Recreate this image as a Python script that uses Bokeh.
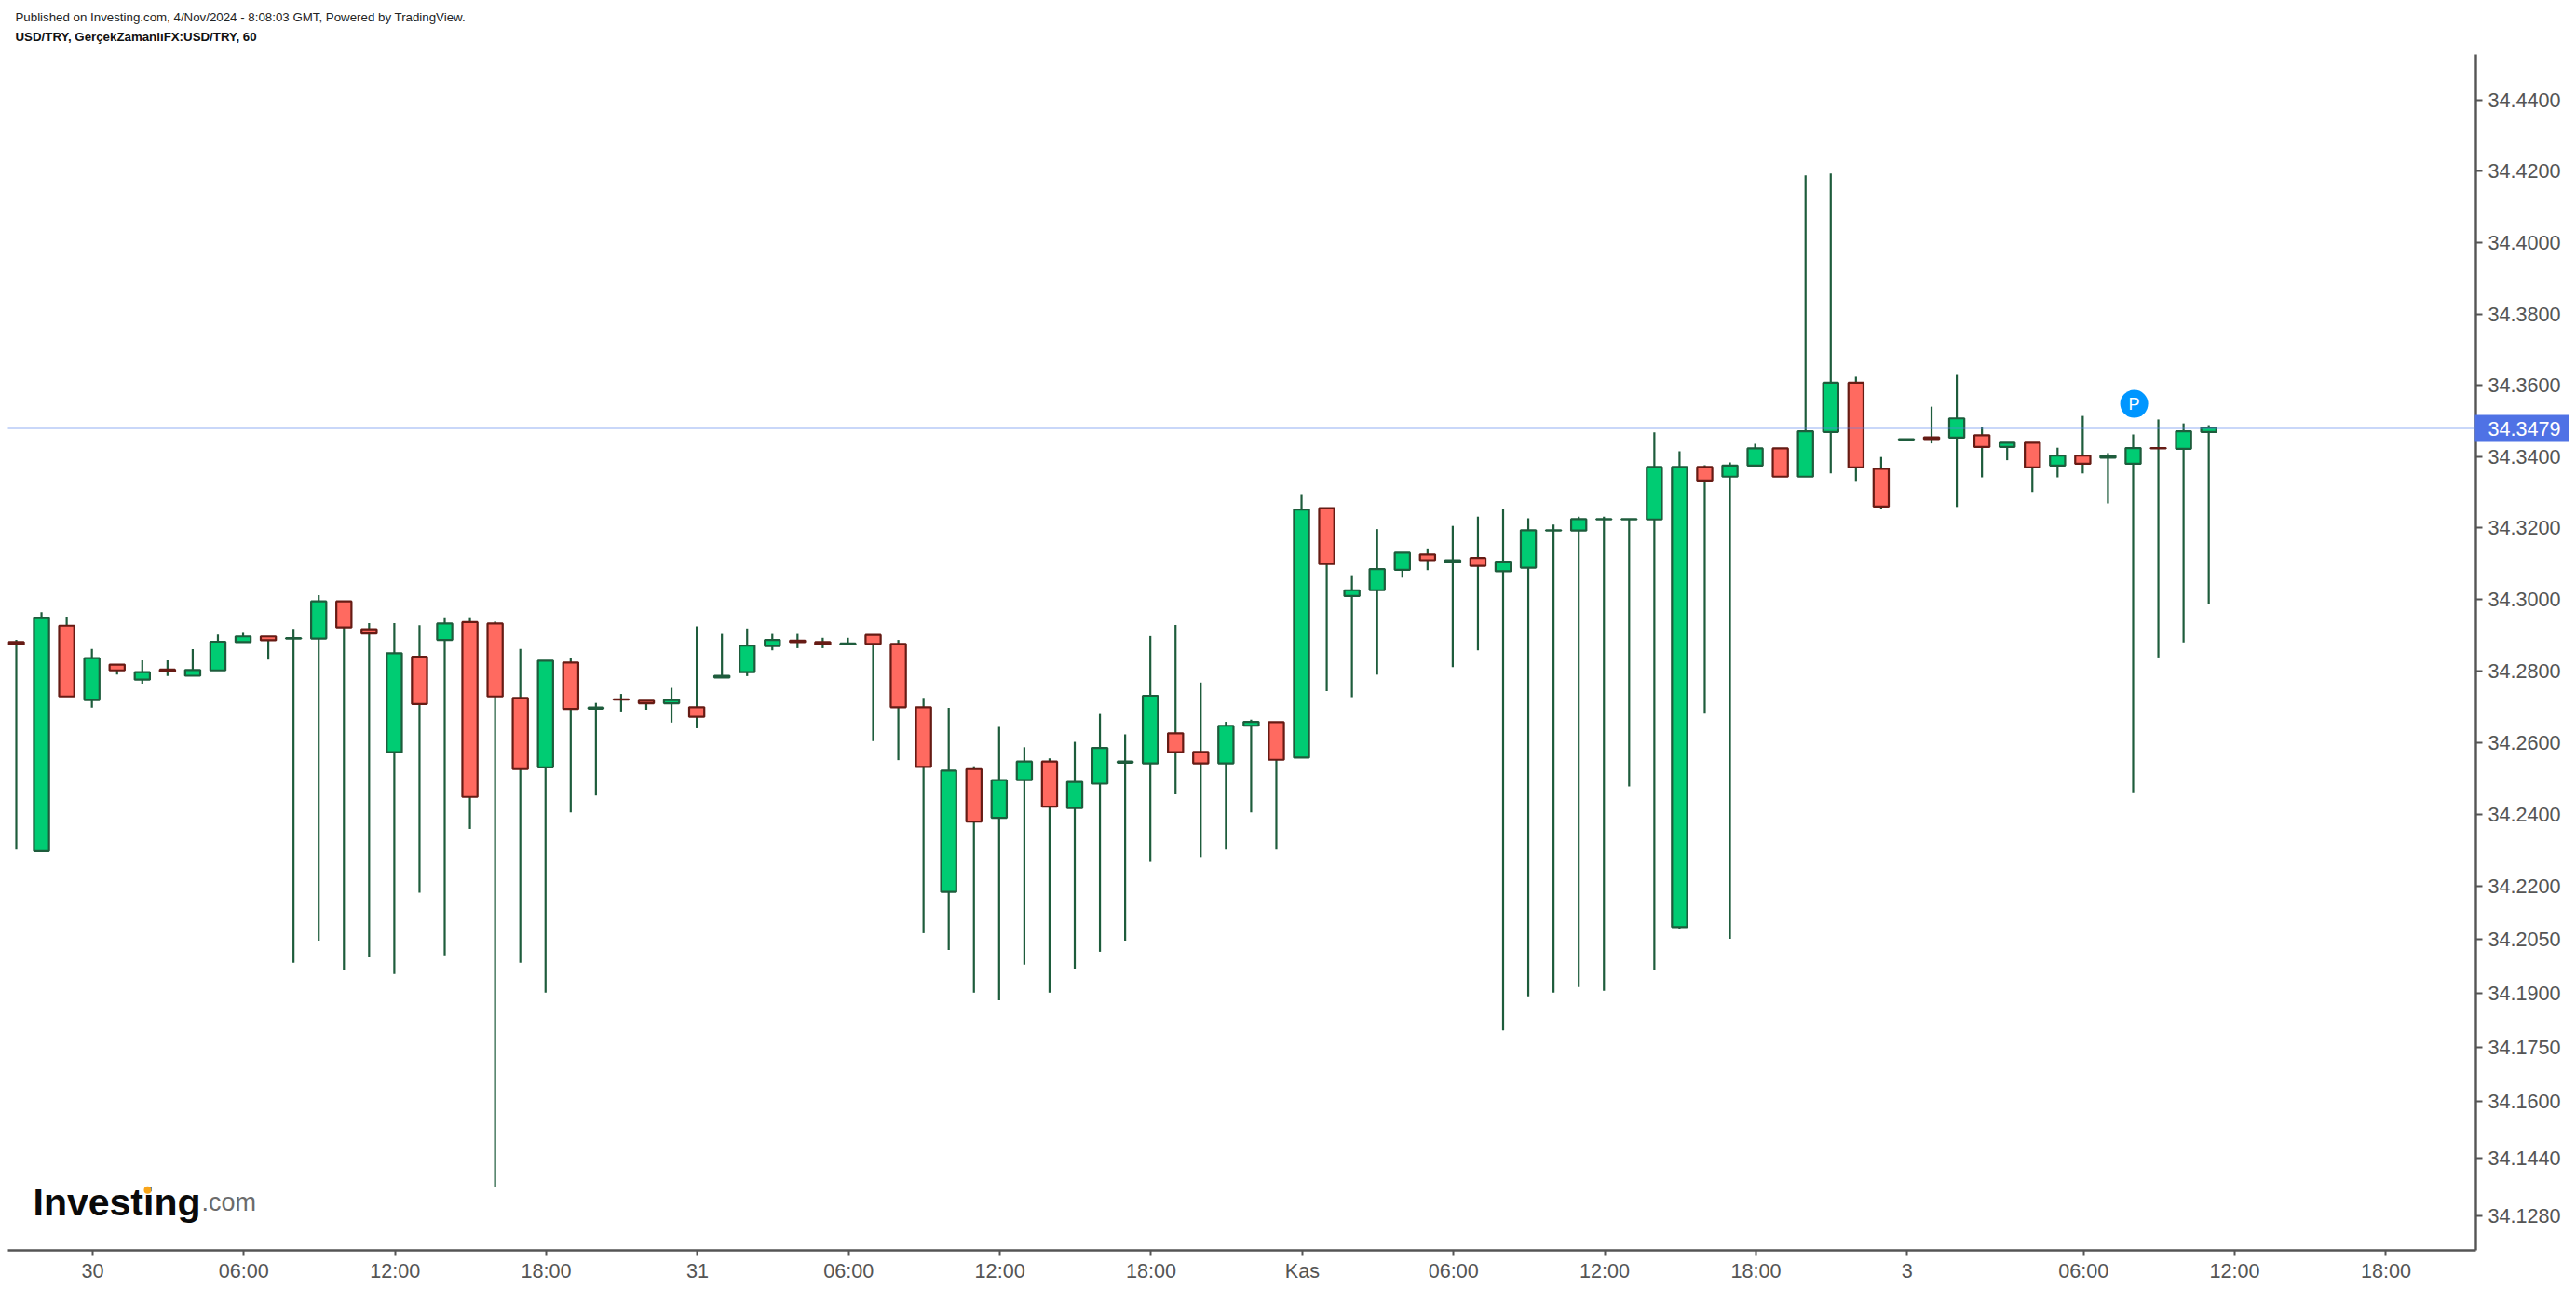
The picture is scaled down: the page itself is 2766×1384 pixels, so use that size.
from bokeh.embed import file_html
from bokeh.resources import INLINE
from bokeh.plotting import figure
from bokeh.models import (ColumnDataSource, FixedTicker, NumeralTickFormatter, Label, Span, Range1d)
from bokeh.core.properties import value

opens = [34.2881,34.2297,34.2927,34.2719,34.2818,34.2776,34.2804,34.2787,34.2802,34.2881,
         34.2897,34.2891,34.2891,34.2995,34.2917,34.2573,34.2840,34.2887,34.2937,34.2933,
         34.2725,34.2531,34.2824,34.2695,34.2721,34.2717,34.2710,34.2699,34.2782,34.2797,
         34.2870,34.2885,34.2881,34.2876,34.2901,34.2876,34.2699,34.2183,34.2526,34.2390,
         34.2495,34.2547,34.2417,34.2485,34.2544,34.2542,34.2626,34.2574,34.2542,34.2647,
         34.2657,34.2558,34.3256,34.3010,34.3026,34.3083,34.3126,34.3105,34.3116,34.3079,
         34.3089,34.3193,34.3193,34.3224,34.3224,34.3224,34.2085,34.3371,34.3344,34.3375,
         34.3423,34.3344,34.3469,34.3607,34.3366,34.3448,34.3454,34.3453,34.3460,34.3427,
         34.3439,34.3375,34.3403,34.3397,34.3380,34.3424,34.3422,34.3469]
highs = [34.2887,34.2965,34.2951,34.2862,34.2818,34.2830,34.2830,34.2861,34.2902,34.2907,
         34.2897,34.2918,34.3012,34.2995,34.2934,34.2934,34.2928,34.2948,34.2948,34.2939,
         34.2862,34.2829,34.2836,34.2711,34.2736,34.2717,34.2753,34.2925,34.2904,34.2919,
         34.2904,34.2904,34.2893,34.2893,34.2901,34.2887,34.2725,34.2697,34.2534,34.2644,
         34.2587,34.2556,34.2602,34.2680,34.2623,34.2898,34.2929,34.2768,34.2658,34.2664,
         34.2657,34.3295,34.3256,34.3068,34.3197,34.3131,34.3143,34.3206,34.3232,34.3253,
         34.3227,34.3210,34.3232,34.3232,34.3225,34.3468,34.3415,34.3376,34.3384,34.3436,
         34.3423,34.4189,34.4194,34.3624,34.3399,34.3449,34.3540,34.3629,34.3482,34.3439,
         34.3439,34.3425,34.3514,34.3410,34.3462,34.3504,34.3493,34.3488]
lows = [34.2301,34.2297,34.2729,34.2698,34.2790,34.2765,34.2786,34.2787,34.2802,34.2881,
        34.2832,34.1985,34.2047,34.1964,34.2000,34.1954,34.2181,34.2006,34.2359,34.1361,
        34.1985,34.1902,34.2405,34.2452,34.2687,34.2692,34.2656,34.2640,34.2782,34.2786,
        34.2858,34.2864,34.2864,34.2876,34.2604,34.2551,34.2068,34.2021,34.1902,34.1881,
        34.1980,34.1902,34.1969,34.2016,34.2047,34.2269,34.2456,34.2280,34.2301,34.2405,
        34.2301,34.2558,34.2744,34.2727,34.2790,34.3061,34.3082,34.2811,34.2858,34.1797,
        34.1892,34.1902,34.1918,34.1907,34.2477,34.1964,34.2078,34.2681,34.2052,34.3375,
        34.3344,34.3344,34.3353,34.3332,34.3254,34.3448,34.3437,34.3259,34.3342,34.3390,
        34.3301,34.3342,34.3353,34.3269,34.2461,34.2838,34.2880,34.2988]
closes = [34.2876,34.2948,34.2729,34.2836,34.2802,34.2797,34.2799,34.2803,34.2882,34.2897,
          34.2886,34.2892,34.2995,34.2922,34.2905,34.2850,34.2708,34.2933,34.2448,34.2729,
          34.2526,34.2829,34.2694,34.2698,34.2720,34.2710,34.2719,34.2672,34.2787,34.2871,
          34.2887,34.2881,34.2876,34.2877,34.2876,34.2699,34.2532,34.2522,34.2379,34.2495,
          34.2547,34.2421,34.2490,34.2585,34.2547,34.2731,34.2573,34.2542,34.2647,34.2658,
          34.2552,34.3252,34.3099,34.3026,34.3085,34.3131,34.3110,34.3110,34.3094,34.3106,
          34.3194,34.3194,34.3225,34.3225,34.3225,34.3371,34.3371,34.3333,34.3375,34.3423,
          34.3344,34.3471,34.3607,34.3370,34.3260,34.3449,34.3449,34.3507,34.3427,34.3439,
          34.3370,34.3403,34.3380,34.3402,34.3424,34.3423,34.3471,34.3481]

y_ticks = [34.44,34.42,34.40,34.38,34.36,34.34,34.32,34.30,34.28,34.26,34.24,34.22,
           34.205,34.19,34.175,34.16,34.144,34.128]
x_tick_index = [3,9,15,21,27,33,39,45,51,57,63,69,75,82,88,94]
x_tick_labels = ["30","06:00","12:00","18:00","31","06:00","12:00","18:00","Kas",
                 "06:00","12:00","18:00","3","06:00","12:00","18:00"]
last_price = 34.3479
marker_index, marker_price = 84.04, 34.3548
logo_dot_index, logo_dot_price = 5.21, 34.1352
published = "Published on Investing.com, 4/Nov/2024 - 8:08:03 GMT, Powered by TradingView."
symbol = "USD/TRY, GerçekZamanlıFX:USD/TRY, 60"

FONT = "Liberation Sans"
AXIS = "#555555"
WICK = "#1e5c3c"
UP, UP_B = "#00cc73", "#1e5c3c"
DN, DN_B = "#ff6a60", "#661b14"

# frame geometry on the page: left 8, right 2658, top 58, bottom 1342
FRAME_W, FRAME_H = 2650, 1284
idx = list(range(len(opens)))
is_up = [c >= o for o, c in zip(opens, closes)]

p = figure(frame_width=FRAME_W, frame_height=FRAME_H, width=2762, height=1380,
           y_axis_type="log", x_axis_location="below", y_axis_location="right",
           output_backend="svg", toolbar_location=None, tools="",
           min_border_left=8, min_border_right=104, min_border_top=58, min_border_bottom=38,
           background_fill_color="white", border_fill_color="white", outline_line_color=None)
p.x_range = Range1d(-0.3326, 97.6)
p.y_range = Range1d(34.11841, 34.45282)
p.grid.visible = False

src = ColumnDataSource(dict(
    x=idx, h=highs, l=lows,
    top=[max(o, c) for o, c in zip(opens, closes)],
    bot=[min(o, c) for o, c in zip(opens, closes)],
    fill=[UP if u else DN for u in is_up],
    line=[UP_B if u else DN_B for u in is_up]))
p.segment("x", "h", "x", "l", source=src, line_color=WICK, line_width=2.2)
p.vbar(x="x", top="top", bottom="bot", width=0.6, source=src,
       fill_color="fill", line_color="line", line_width=2.2)

p.add_layout(Span(location=last_price, dimension="width", line_color="#5a85ee",
                  line_alpha=0.65, line_width=2, line_dash="1 1"))

yax = p.yaxis[0]
yax.ticker = FixedTicker(ticks=y_ticks, minor_ticks=[])
yax.formatter = NumeralTickFormatter(format="0.0000")
yax.axis_line_color = AXIS; yax.axis_line_width = 2.4
yax.major_tick_line_color = AXIS; yax.major_tick_line_width = 2
yax.major_tick_out = 7; yax.major_tick_in = 0
yax.minor_tick_line_color = None
yax.major_label_text_color = AXIS
yax.major_label_text_font = FONT
yax.major_label_text_font_size = "21.6px"
yax.major_label_standoff = 6

xax = p.xaxis[0]
xt = [i + 0.03 for i in x_tick_index]
xax.ticker = FixedTicker(ticks=xt, minor_ticks=[])
xax.major_label_overrides = dict(zip(xt, x_tick_labels))
xax.axis_line_color = AXIS; xax.axis_line_width = 2.4
xax.major_tick_line_color = AXIS; xax.major_tick_line_width = 2
xax.major_tick_out = 6; xax.major_tick_in = 0
xax.minor_tick_line_color = None
xax.major_label_text_color = AXIS
xax.major_label_text_font = FONT
xax.major_label_text_font_size = "21.6px"
xax.major_label_standoff = 3

# marker
p.scatter([marker_index], [marker_price], size=30, marker="circle",
          fill_color="#0096ff", line_color="#0096ff", line_width=0)
p.text([marker_index], [marker_price], text=["P"], text_color="white",
       text_font=value(FONT), text_font_size="18px",
       text_align="center", text_baseline="middle")

# last price tag: a side panel label is not clipped to the frame
p.add_layout(Label(x=-95, y=last_price, x_units="screen", y_units="data", text="34.3479",
                   text_color="white", text_font=FONT, text_font_size="21.6px",
                   text_align="left", text_baseline="middle",
                   background_fill_color="#4f72e5", padding=(14, 9, 7, 7)), "right")

# texts above the frame
p.add_layout(Label(x=8, y=40, x_units="screen", y_units="screen", text=published,
                   text_color="#222222", text_font=FONT, text_font_size="13.3px",
                   text_baseline="middle"), "above")
p.add_layout(Label(x=8, y=4, x_units="screen", y_units="screen", text=symbol,
                   text_color="#111111", text_font=FONT, text_font_size="13.3px",
                   text_font_style="bold", text_baseline="middle"), "above")
p.add_layout(Label(x=27, y=52, x_units="screen", y_units="screen", text="Investing",
                   text_color="#0a0a0a", text_font=FONT, text_font_size="41px",
                   text_font_style="bold", text_baseline="alphabetic"))
p.add_layout(Label(x=208, y=52, x_units="screen", y_units="screen", text=".com",
                   text_color="#6b6b6b", text_font=FONT, text_font_size="27px",
                   text_baseline="alphabetic"))
p.scatter([logo_dot_index], [logo_dot_price], size=8, marker="circle",
          fill_color="#f9a51a", line_color=None, level="overlay")

open("out.html", "w").write(file_html(p, INLINE))
